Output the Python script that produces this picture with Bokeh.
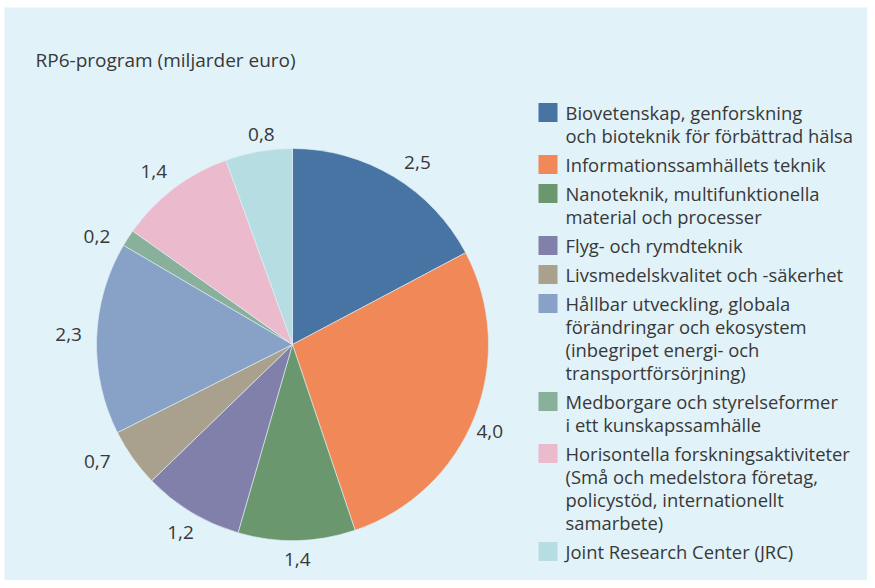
import math
from bokeh.plotting import figure
from bokeh.models import Range1d
from bokeh.core.properties import value
from bokeh.embed import file_html
from bokeh.resources import INLINE

# ---- data ----
title = "RP6-program (miljarder euro)"
categories = [
    "Biovetenskap, genforskning\noch bioteknik för förbättrad hälsa",
    "Informationssamhällets teknik",
    "Nanoteknik, multifunktionella\nmaterial och processer",
    "Flyg- och rymdteknik",
    "Livsmedelskvalitet och -säkerhet",
    "Hållbar utveckling, globala\nförändringar och ekosystem\n(inbegripet energi- och\ntransportförsörjning)",
    "Medborgare och styrelseformer\ni ett kunskapssamhälle",
    "Horisontella forskningsaktiviteter\n(Små och medelstora företag,\npolicystöd, internationellt\nsamarbete)",
    "Joint Research Center (JRC)",
]
values = [2.5, 4.0, 1.4, 1.2, 0.7, 2.3, 0.2, 1.4, 0.8]
value_labels = ["2,5", "4,0", "1,4", "1,2", "0,7", "2,3", "0,2", "1,4", "0,8"]
colors = ["#4774a3", "#f08858", "#6a976d", "#8180aa", "#a9a08e",
          "#87a1c7", "#88b09a", "#ebbacd", "#b6dee2"]

# ---- layout ----
W, H = 867, 580
BG = "#e1f2f9"
TXT = "#383838"
FONT = "Open Sans"
# small hand nudges of the value labels (pixels, right / down)
label_nudge = [(11, 7), (-8, 5), (0, -6), (2, -1), (-15, -11),
               (-3, -3), (-10, 12), (-5, 3), (7, 8)]

def Y(py):  # reference pixel y -> data y
    return 588 - py

p = figure(width=W, height=H, output_backend="svg", toolbar_location=None,
           x_range=Range1d(4, W), y_range=Range1d(Y(H), Y(7)),
           min_border_left=4, min_border_top=7, min_border_right=0,
           min_border_bottom=0, outline_line_color=None,
           background_fill_color=BG, border_fill_color="white")
p.axis.visible = False
p.grid.visible = False

cx, cy, R = 292, Y(344), 196
total = sum(values)
starts, ends, lx, ly = [], [], [], []
acc = 0.0
for v, (ndx, ndy) in zip(values, label_nudge):
    a0 = acc / total * 2 * math.pi
    acc += v
    a1 = acc / total * 2 * math.pi
    starts.append(math.pi / 2 - a0)
    ends.append(math.pi / 2 - a1)
    mid = (a0 + a1) / 2
    lr = 221
    lx.append(cx + lr * math.sin(mid) + ndx)
    ly.append(cy + lr * math.cos(mid) - ndy)

p.wedge(x=cx, y=cy, radius=R, start_angle=starts, end_angle=ends,
        direction="clock", fill_color=colors, line_color=BG, line_width=0.6)

p.text(x=lx, y=ly, text=value_labels, text_align="center",
       text_baseline="middle", text_font=value(FONT), text_font_size="19px",
       text_color=TXT)

p.text(x=[35], y=[Y(59)], text=[title], text_align="left",
       text_baseline="middle", text_font=value(FONT), text_font_size="19px",
       text_color=TXT)

# legend
LH, GAP = 23, 29
y0 = 112
sq_x, sq_y, tx, ty, tt = [], [], [], [], []
for cat in categories:
    lines = cat.split("\n")
    sq_x.append(547.5)
    sq_y.append(Y(y0))
    for i, ln in enumerate(lines):
        tx.append(565)
        ty.append(Y(y0 + i * LH))
        tt.append(ln)
    y0 += (len(lines) - 1) * LH + GAP

p.rect(x=sq_x, y=sq_y, width=19, height=19, fill_color=colors, line_color=None)
p.text(x=tx, y=ty, text=tt, text_align="left", text_baseline="middle",
       text_font=value(FONT), text_font_size="18.4px", text_color=TXT)

open("out.html", "w").write(file_html(p, INLINE))
